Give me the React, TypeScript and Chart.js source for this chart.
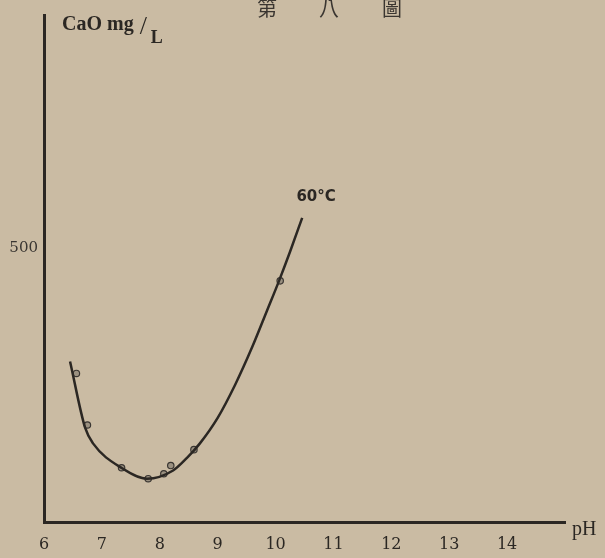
import { useEffect, useRef } from "react";
import { Chart, registerables } from "chart.js";
Chart.register(...registerables);

const xTicks = [6, 7, 8, 9, 10, 11, 12, 13, 14];
const yTicks = [500];
const curvePH = [6.45, 6.71, 6.85, 7.35, 7.78, 8.23, 8.47, 8.69, 9.0, 9.3, 9.6, 9.85, 10.06, 10.25, 10.46];
const curveCaO = [293, 172, 143, 98, 79, 94, 117, 143, 190, 250, 320, 385, 440, 493, 555];
const pointPH = [6.56, 6.75, 7.34, 7.8, 8.07, 8.19, 8.59, 10.08];
const pointCaO = [271, 177, 99, 79, 88, 103, 132, 440];
const seriesLabel = "60°C";
const yTitle = "CaO mg";
const yUnit = "L";
const xTitle = "pH";
const figTitle = ["第", "八", "圖"];

const INK = "#2b2723";
const PAPER = "#cabba3";

const textPlugin = {
  id: "texts",
  beforeDraw(chart: any) {
    const c = chart.ctx;
    c.save();
    c.fillStyle = PAPER;
    c.fillRect(0, 0, chart.width, chart.height);
    c.restore();
  },
  afterDraw(chart: any) {
    const c = chart.ctx;
    const xs = chart.scales.x;
    const ys = chart.scales.y;
    c.save();
    c.fillStyle = INK;
    c.textBaseline = "middle";
    // figure title
    c.fillStyle = "#3a3530";
    c.font = "20px 'Noto Sans CJK TC'";
    c.textAlign = "center";
    const tx = [267, 329, 392];
    figTitle.forEach((t, i) => c.fillText(t, tx[i], 8));
    c.fillStyle = INK;
    // y title
    c.font = "bold 20px 'Liberation Serif'";
    c.textAlign = "left";
    c.fillText(yTitle, 62, 25);
    const w = c.measureText(yTitle).width;
    c.font = "26px 'Liberation Serif'";
    c.fillText("/", 62 + w + 6, 27);
    c.font = "bold 18px 'Liberation Serif'";
    c.fillText(yUnit, 62 + w + 17, 38);
    // x title
    c.font = "20px 'Liberation Serif'";
    c.fillText(xTitle, 572, xs.top + 8);
    // series label
    c.font = "bold 15px 'DejaVu Sans'";
    c.textAlign = "center";
    c.fillText(seriesLabel, xs.getPixelForValue(10.7), ys.getPixelForValue(592));
    c.restore();
  },
};

export default function App() {
  const ref = useRef<HTMLCanvasElement>(null);
  useEffect(() => {
    document.body.style.margin = "0";
    const chart = new Chart(ref.current!, {
      type: "line",
      data: {
        datasets: [
          {
            label: "curve",
            data: curvePH.map((x, i) => ({ x, y: curveCaO[i] })),
            borderColor: INK,
            borderWidth: 2.5,
            pointRadius: 0,
            cubicInterpolationMode: "monotone",
            fill: false,
          },
          {
            label: "points",
            data: pointPH.map((x, i) => ({ x, y: pointCaO[i] })),
            showLine: false,
            pointRadius: 3.2,
            pointBackgroundColor: "#9a9080",
            pointBorderColor: "#3a3632",
            pointBorderWidth: 1.2,
          },
        ],
      },
      options: {
        animation: false,
        responsive: false,
        layout: { padding: { top: 10, right: 40, left: 0, bottom: 0 } },
        plugins: { legend: { display: false }, tooltip: { enabled: false } },
        scales: {
          x: {
            type: "linear",
            min: 6,
            max: 15,
            grid: { display: false, drawTicks: false },
            border: { display: true, color: INK, width: 3 },
            afterBuildTicks: (s: any) => {
              s.ticks = xTicks.map((v) => ({ value: v }));
            },
            afterFit: (s: any) => {
              s.height = 36;
            },
            ticks: {
              color: INK,
              padding: 13,
              font: { family: "'DejaVu Serif'", size: 16 },
            },
          },
          y: {
            min: 0,
            max: 925,
            grid: { display: false, drawTicks: false },
            border: { display: true, color: INK, width: 3 },
            afterBuildTicks: (s: any) => {
              s.ticks = yTicks.map((v) => ({ value: v }));
            },
            afterFit: (s: any) => {
              s.width = 44;
            },
            ticks: {
              color: "#3a3632",
              padding: 6,
              font: { family: "'DejaVu Serif'", size: 15 },
            },
          },
        },
      },
      plugins: [textPlugin],
    } as any);
    return () => chart.destroy();
  }, []);
  return (
    <div style={{ position: "fixed", left: 0, top: 0, width: 605, height: 558 }}>
      <canvas ref={ref} width={605} height={558} />
    </div>
  );
}
